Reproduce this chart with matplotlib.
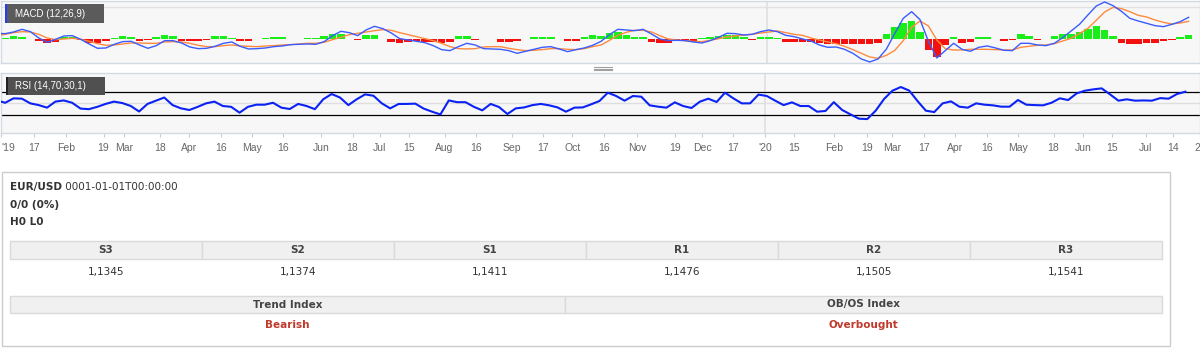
import numpy as np
import pandas as pd
import matplotlib
matplotlib.use("Agg")
import matplotlib.pyplot as plt
from matplotlib.patches import Rectangle

# EUR/USD daily indicators, every 4 days
dates = pd.date_range("2018-12-30", periods=143, freq="4D")

# MACD (12,26,9): macd line, signal line, histogram -- in pips (1e-4)
macd_pips = [16, 15, 20, 28, 21, 2, -11, -2, 8, 9, -2, -16, -29, -28, -17, -9, -8, -19, -29, -21,
             -6, -6, -13, -25, -30, -29, -23, -14, -10, -23, -31, -30, -28, -24, -22, -18, -17,
             -16, -17, -9, 9, 22, 18, 9, 26, 37, 30, 17, 0, -4, -8, -12, -21, -33, -36, -24, -14,
             -19, -30, -31, -32, -36, -44, -38, -32, -26, -24, -31, -39, -33, -28, -20,
             -8, 12, 28, 26, 24, 28, 14, -1, -6, -5, -6, -10, -13, -6, 4, 16, 15, 11, 13, 21,
             26, 21, 10, 6, -1, -7, -19, -26, -25, -32, -44, -61, -70, -61, -31, 16,
             61, 81, 57, -8, -58, -36, -14, -32, -38, -26, -22, -28, -35, -36, -14, -14, -19, -21,
             -14, 3, 23, 43, 71, 98, 110, 99, 82, 61, 53, 46, 39, 36, 43, 51, 64]
signal_pips = [9, 13, 18, 21, 20, 13, 2, -3, -1, 1, -2, -8, -15, -20, -19, -16, -13, -13, -14, -14,
               -10, -9, -10, -14, -20, -24, -24, -21, -19, -22, -23, -24, -22, -21, -19, -18, -16,
               -14, -14, -11, -3, 4, 12, 16, 20, 24, 27, 25, 18, 12, 6, 0, -6, -14, -24, -30, -31,
               -30, -25, -24, -24, -29, -33, -36, -35, -33, -30, -30, -32, -33, -30, -24,
               -19, -5, 10, 19, 25, 25, 20, 9, -1, -4, -6, -8, -9, -5, 0, 5, 8, 11, 13, 17,
               20, 23, 18, 13, 10, 2, -4, -10, -15, -23, -33, -44, -55, -59, -50, -35,
               -6, 34, 53, 38, -4, -30, -34, -34, -32, -32, -32, -33, -34, -34, -26, -23, -20, -19,
               -15, -7, 1, 15, 31, 55, 80, 94, 90, 81, 70, 65, 56, 49, 44, 47, 52]
hist_pips = [2, 3, 8, 6, -2, -8, -12, -9, 5, 5, -4, -12, -12, -8, 3, 8, 6, -6, -5, 4,
             12, 8, -6, -8, -8, -4, 7, 8, 3, -6, -6, -2, 2, 5, 5, -1, -2,
             1, 3, 9, 14, 14, -2, -4, 10, 10, -2, -9, -14, -10, -7, -9, -11, -12, -9, 8, 8,
             -4, -1, -2, -9, -9, -8, -1, 6, 6, 5, -2, -6, -6, 4, 10,
             8, 17, 20, 12, 4, 4, -9, -13, -12, -6, -6, -6, 1, 6, 8, 10, 10, 4, -3, 4,
             6, 3, -9, -9, -10, -11, -13, -16, -17, -17, -17, -17, -17, -13, 15, 35,
             46, 53, 21, -34, -56, -18, 6, -12, -9, 6, 5, -2, -6, -5, 13, 8, -3, -2,
             8, 15, 14, 20, 28, 38, 25, 9, -12, -17, -17, -14, -12, -8, -4, 5, 10]

# RSI (14,70,30,1)
rsi = [55, 51, 58.6, 58, 50, 47, 42.6, 53, 55, 51, 41, 40, 44, 49, 53, 50.5, 45.5, 36, 49, 54.5,
       60, 47, 41.4, 38.6, 44, 50, 53, 45.5, 44, 34, 44, 47.7, 47.7, 51, 42.6, 40.3, 49, 45.5,
       40, 57, 66, 60, 47, 57, 65.4, 63, 50, 41.4,
       48.9, 49, 49.5, 41, 35.7, 31, 55, 52, 52, 44, 38, 49, 43.7, 31.7, 41.4, 43, 47, 49,
       46.6, 43, 35.7, 42.6, 43, 48.3, 54, 68.3, 62.6, 54.6, 62.6, 61.4, 46.6, 44.3, 42.6,
       51.7, 45.4, 42, 52.9, 58, 52.3, 68.3, 58.6, 50, 50, 65, 62.6, 54.6, 47, 51.7,
       45.4, 45.4, 35.7, 36.9, 52, 38.6, 31, 23.7, 23, 37.4, 57.4, 71.7, 78, 72, 54, 37.4,
       35, 50, 53.4, 44.3, 42.6, 50, 47.7, 46.6, 44.3, 44.3, 55.7, 47.7, 47, 46.6, 51,
       58.6, 55.7, 67, 71.7, 74, 75.7, 65.4, 54.6, 56.9, 54.6, 55, 54.6, 59, 58, 66, 70]

tick_dates = ["2019-01-01", "2019-01-17", "2019-02-01", "2019-02-19", "2019-03-01", "2019-03-18",
              "2019-04-01", "2019-04-16", "2019-05-01", "2019-05-16", "2019-06-03", "2019-06-18",
              "2019-07-01", "2019-07-15", "2019-08-01", "2019-08-16", "2019-09-02", "2019-09-17",
              "2019-10-01", "2019-10-16", "2019-11-01", "2019-11-19", "2019-12-02", "2019-12-17",
              "2020-01-01", "2020-01-15", "2020-02-03", "2020-02-19", "2020-03-02", "2020-03-17",
              "2020-04-01", "2020-04-16", "2020-05-01", "2020-05-18", "2020-06-01", "2020-06-15",
              "2020-07-01", "2020-07-14", "2020-07-27"]
tick_labels = ["'19", "17", "Feb", "19", "Mar", "18", "Apr", "16", "May", "16", "Jun", "18",
               "Jul", "15", "Aug", "16", "Sep", "17", "Oct", "16", "Nov", "19", "Dec", "17",
               "'20", "15", "Feb", "19", "Mar", "17", "Apr", "16", "May", "18", "Jun", "15",
               "Jul", "14", "27"]

pivot_names = ["S3", "S2", "S1", "R1", "R2", "R3"]
pivot_values = ["1,1345", "1,1374", "1,1411", "1,1476", "1,1505", "1,1541"]
index_names = ["Trend Index", "OB/OS Index"]
index_values = ["Bearish", "Overbought"]

W, H = 1200, 350
fig = plt.figure(figsize=(W / 100, H / 100), dpi=100)


def frac(x0, y0, x1, y1):
    # pixel box (top-left origin) -> figure fraction rect
    return [x0 / W, 1 - y1 / H, (x1 - x0) / W, (y1 - y0) / H]


x_start = pd.Timestamp("2019-01-01")
x_end = x_start + pd.Timedelta(days=W / 2.1)
year_mark = pd.Timestamp("2020-01-01")

ax_m = fig.add_axes(frac(1, 1, 1200, 63.3))
ax_r = fig.add_axes(frac(1, 72.7, 1200, 133.3))
for ax in (ax_m, ax_r):
    ax.set_facecolor("#f7f7f7")
    for s in ax.spines.values():
        s.set_color("#d3d9e3")
        s.set_linewidth(1)
    ax.set_xlim(x_start, x_end)
    ax.axvline(year_mark, color="#e0e0e0", lw=1.2, zorder=0)

# MACD panel
macd = np.array(macd_pips) / 1e4
signal = np.array(signal_pips) / 1e4
hist = np.array(hist_pips) / 1e4
bar_colors = ["#19ee19" if v >= 0 else "#f51010" for v in hist]
ax_m.bar(dates, hist, width=3.6, color=bar_colors, linewidth=0, zorder=2)
ax_m.plot(dates, signal, color="#ff8a3d", lw=1.0, zorder=3)
ax_m.plot(dates, macd, color="#3a5cff", lw=1.0, zorder=4)
ax_m.set_ylim(-0.0074, 0.0113)
ax_m.set_yticks([0.0094])
ax_m.yaxis.grid(True, color="#e2e2e2", lw=1)
ax_m.set_axisbelow(True)
ax_m.tick_params(left=False, labelleft=False, bottom=False, labelbottom=False)

# RSI panel
ax_r.axhline(50, color="#dedede", lw=1, zorder=1)
ax_r.axhline(70, color="black", lw=0.9, zorder=2)
ax_r.axhline(30, color="black", lw=0.9, zorder=2)
ax_r.plot(dates, rsi, color="#0b22f5", lw=1.5, zorder=3)
ax_r.set_ylim(-1.4, 102.6)
ax_r.set_yticks([])
ax_r.set_xticks(pd.to_datetime(tick_dates))
ax_r.set_xticklabels(tick_labels, fontsize=7.5, color="#666666", family="Liberation Sans")
ax_r.tick_params(axis="x", length=3, color="#cccccc", pad=4)
ax_r.get_xticklabels()[0].set_ha("left")

# overlay in pixel coordinates for labels, handle and info box
ax_o = fig.add_axes([0, 0, 1, 1])
ax_o.set_xlim(0, W)
ax_o.set_ylim(H, 0)
ax_o.axis("off")
ax_o.set_zorder(5)
ax_o.patch.set_alpha(0)

ax_o.add_patch(Rectangle((5, 4), 99, 19.3, fc="#5b5b5b", ec="none"))
ax_o.add_patch(Rectangle((5, 4), 2, 19.3, fc="#1f3dff", ec="none"))
ax_o.text(15, 13.8, "MACD (12,26,9)", color="white", fontsize=7, va="center",
          family="Liberation Sans")
ax_o.add_patch(Rectangle((6, 76.7), 99, 18.3, fc="#505050", ec="none"))
ax_o.add_patch(Rectangle((6, 76.7), 1.5, 18.3, fc="#222222", ec="none"))
ax_o.text(15, 86, "RSI (14,70,30,1)", color="white", fontsize=7, va="center",
          family="Liberation Sans")

for yy in (67, 68.5, 70):
    ax_o.plot([594, 612], [yy, yy], color="#a0a0a0", lw=0.8)

# info box
ax_o.add_patch(Rectangle((2, 171.5), 1168, 174.5, fc="white", ec="#cccccc", lw=1))
fs = 7.5
t1 = ax_o.text(10, 187, "EUR/USD", fontsize=fs, fontweight="bold", va="center", color="#333333")
ax_o.annotate(" 0001-01-01T00:00:00", xy=(1, 0.5), xycoords=t1, va="center", fontsize=fs,
              color="#333333")
ax_o.text(10, 205, "0/0 (0%)", fontsize=fs, fontweight="bold", va="center", color="#333333")
ax_o.text(10, 222, "H0 L0", fontsize=fs, fontweight="bold", va="center", color="#333333")

col_w = 192
for i, (name, val) in enumerate(zip(pivot_names, pivot_values)):
    x0 = 10 + i * col_w
    ax_o.add_patch(Rectangle((x0, 241), col_w, 18, fc="#f0f0f0", ec="#dadada", lw=1))
    ax_o.text(x0 + col_w / 2, 250, name, fontsize=fs, fontweight="bold", ha="center",
              va="center", color="#444444")
    ax_o.text(x0 + col_w / 2, 272, val, fontsize=fs, ha="center", va="center", color="#333333")

splits = [(10, 565), (565, 1162)]
for (x0, x1), name, val in zip(splits, index_names, index_values):
    ax_o.add_patch(Rectangle((x0, 296), x1 - x0, 17, fc="#f0f0f0", ec="#dadada", lw=1))
    ax_o.text((x0 + x1) / 2, 304.5, name, fontsize=fs, fontweight="bold", ha="center",
              va="center", color="#444444")
    ax_o.text((x0 + x1) / 2, 325, val, fontsize=fs, fontweight="bold", ha="center",
              va="center", color="#c0392b")

fig.savefig("out.png", dpi=100)
